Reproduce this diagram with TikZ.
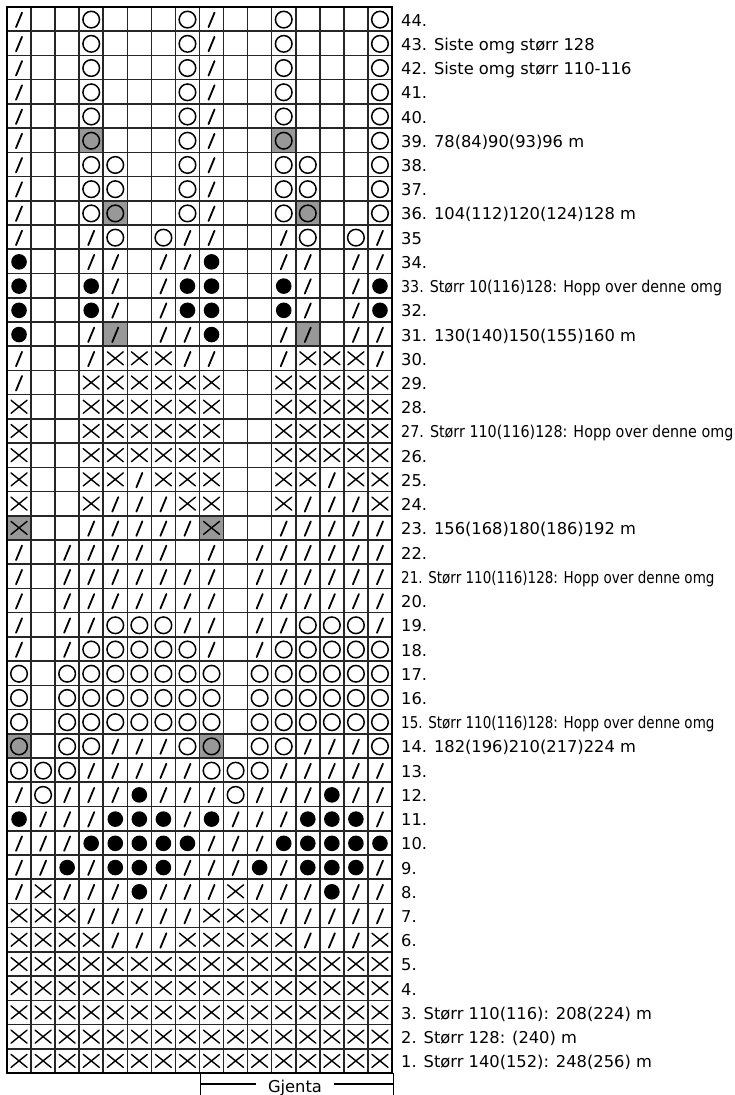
\documentclass[tikz,border=0pt]{standalone}
\usepackage{fontspec}
\setmainfont{DejaVu Sans}

\definecolor{cellgray}{RGB}{152,152,152}

% smalere tekst for "Hopp over"-linjene
\newcommand{\hopp}[2]{\scalebox{#1}[1]{#2}}

% symboler, tegnet i midten av gjeldende rute
\newcommand{\symbe}{}
\newcommand{\symbs}{\draw[slash] (-3pt,-8pt) -- (3pt,6.5pt);}
\newcommand{\symbo}{\draw[ring] (0pt,-0.5pt) circle[radius=8.3pt];}
\newcommand{\symbx}{\draw[cross] (-8pt,-6.5pt) -- (8pt,6.5pt) (-8pt,6.5pt) -- (8pt,-6.5pt);}
\newcommand{\symbb}{\fill (0pt,-0.5pt) circle[radius=7.8pt];}
\newcommand{\symbS}{\fill[cellgray] (-0.5,-0.5) rectangle (0.5,0.5); \symbs}
\newcommand{\symbO}{\fill[cellgray] (-0.5,-0.5) rectangle (0.5,0.5); \symbo}
\newcommand{\symbX}{\fill[cellgray] (-0.5,-0.5) rectangle (0.5,0.5); \symbx}

\begin{document}
\begin{tikzpicture}[
    x=1pt, y=1pt,
    line cap=round,
    slash/.style={line width=1.8pt},
    ring/.style={line width=1.5pt},
    cross/.style={line width=1.4pt},
    gridline/.style={line width=1.6pt, black!85},
    frame/.style={line width=2pt},
    rowlabel/.style={anchor=base west, xshift=9pt, yshift=-7pt, inner sep=0pt,
        font=\fontsize{16.3}{20}\selectfont},
    bracket/.style={line width=1.4pt, line cap=butt},
]
\useasboundingbox (0,0) rectangle (735,1095);

% ---- mønster: 16 masker, 44 omganger ----
\begin{scope}[shift={(7,22)}, x=24.0625pt, y=24.2273pt]
\foreach \r/\cells/\lbl in {
    44/{s,e,e,o,e,e,e,o,s,e,e,o,e,e,e,o}/{44.},
    43/{s,e,e,o,e,e,e,o,s,e,e,o,e,e,e,o}/{43. Siste omg størr 128},
    42/{s,e,e,o,e,e,e,o,s,e,e,o,e,e,e,o}/{42. Siste omg størr 110-116},
    41/{s,e,e,o,e,e,e,o,s,e,e,o,e,e,e,o}/{41.},
    40/{s,e,e,o,e,e,e,o,s,e,e,o,e,e,e,o}/{40.},
    39/{s,e,e,O,e,e,e,o,s,e,e,O,e,e,e,o}/{39. 78(84)90(93)96 m},
    38/{s,e,e,o,o,e,e,o,s,e,e,o,o,e,e,o}/{38.},
    37/{s,e,e,o,o,e,e,o,s,e,e,o,o,e,e,o}/{37.},
    36/{s,e,e,o,O,e,e,o,s,e,e,o,O,e,e,o}/{36. 104(112)120(124)128 m},
    35/{s,e,e,s,o,e,o,s,s,e,e,s,o,e,o,s}/{35},
    34/{b,e,e,s,s,e,s,s,b,e,e,s,s,e,s,s}/{34.},
    33/{b,e,e,b,s,e,s,b,b,e,e,b,s,e,s,b}/{\hopp{0.872}{33. Størr 10(116)128: Hopp over denne omg}},
    32/{b,e,e,b,s,e,s,b,b,e,e,b,s,e,s,b}/{32.},
    31/{b,e,e,s,S,e,s,s,b,e,e,s,S,e,s,s}/{31. 130(140)150(155)160 m},
    30/{s,e,e,s,x,x,x,s,s,e,e,s,x,x,x,s}/{30.},
    29/{s,e,e,x,x,x,x,x,x,e,e,x,x,x,x,x}/{29.},
    28/{x,e,e,x,x,x,x,x,x,e,e,x,x,x,x,x}/{28.},
    27/{x,e,e,x,x,x,x,x,x,e,e,x,x,x,x,x}/{\hopp{0.878}{27. Størr 110(116)128: Hopp over denne omg}},
    26/{x,e,e,x,x,x,x,x,x,e,e,x,x,x,x,x}/{26.},
    25/{x,e,e,x,x,s,x,x,x,e,e,x,x,s,x,x}/{25.},
    24/{x,e,e,x,s,s,s,x,x,e,e,x,s,s,s,x}/{24.},
    23/{X,e,e,s,s,s,s,s,X,e,e,s,s,s,s,s}/{23. 156(168)180(186)192 m},
    22/{s,e,s,s,s,s,s,e,s,e,s,s,s,s,s,s}/{22.},
    21/{s,e,s,s,s,s,s,s,s,e,s,s,s,s,s,s}/{\hopp{0.828}{21. Størr 110(116)128: Hopp over denne omg}},
    20/{s,e,s,s,s,s,s,s,s,e,s,s,s,s,s,s}/{20.},
    19/{s,e,s,s,o,o,o,s,s,e,s,s,o,o,o,s}/{19.},
    18/{s,e,s,o,o,o,o,o,s,e,s,o,o,o,o,o}/{18.},
    17/{o,e,o,o,o,o,o,o,o,e,o,o,o,o,o,o}/{17.},
    16/{o,e,o,o,o,o,o,o,o,e,o,o,o,o,o,o}/{16.},
    15/{o,e,o,o,o,o,o,o,o,e,o,o,o,o,o,o}/{\hopp{0.828}{15. Størr 110(116)128: Hopp over denne omg}},
    14/{O,e,o,o,s,s,s,o,O,e,o,o,s,s,s,o}/{14. 182(196)210(217)224 m},
    13/{o,o,o,s,s,s,s,s,o,o,o,s,s,s,s,s}/{13.},
    12/{s,o,s,s,s,b,s,s,s,o,s,s,s,b,s,s}/{12.},
    11/{b,s,s,s,b,b,b,s,b,s,s,s,b,b,b,s}/{11.},
    10/{s,s,s,b,b,b,b,b,s,s,s,b,b,b,b,b}/{10.},
    9/{s,s,b,s,b,b,b,s,s,s,b,s,b,b,b,s}/{9.},
    8/{s,x,s,s,s,b,s,s,s,x,s,s,s,b,s,s}/{8.},
    7/{x,x,x,s,s,s,s,s,x,x,x,s,s,s,s,s}/{7.},
    6/{x,x,x,x,s,s,s,x,x,x,x,x,s,s,s,x}/{6.},
    5/{x,x,x,x,x,x,x,x,x,x,x,x,x,x,x,x}/{5.},
    4/{x,x,x,x,x,x,x,x,x,x,x,x,x,x,x,x}/{4.},
    3/{x,x,x,x,x,x,x,x,x,x,x,x,x,x,x,x}/{3. Størr 110(116): 208(224) m},
    2/{x,x,x,x,x,x,x,x,x,x,x,x,x,x,x,x}/{2. Størr 128: (240) m},
    1/{x,x,x,x,x,x,x,x,x,x,x,x,x,x,x,x}/{1. Størr 140(152): 248(256) m}%
}{
    \foreach \s [count=\c] in \cells {
        \begin{scope}[shift={(\c-0.5,\r-0.5)}]
            \csname symb\s\endcsname
        \end{scope}
    }
    \node[rowlabel] (row\r) at (16,\r-0.5) {\lbl};
}

% ---- rutenett ----
\draw[gridline] (0,0) grid[step={(1,1)}] (16,44);
\draw[frame] (0,0) rectangle (16,44);
\end{scope}

% ---- Gjenta ----
\coordinate (gjLtop) at (200.5,22);
\coordinate (gjLbot) at (200.5,0);
\coordinate (gjRtop) at (393.5,22);
\coordinate (gjRbot) at (393.5,0);
\coordinate (gjLmid) at (200.5,11);
\coordinate (gjRmid) at (393.5,11);
\node[anchor=base, inner xsep=12pt, inner ysep=0pt,
    font=\fontsize{16.3}{20}\selectfont] (gjenta) at (295,2.5) {Gjenta};
\draw[bracket] (gjLtop) -- (gjLbot);
\draw[bracket] (gjRtop) -- (gjRbot);
\draw[bracket] (gjLmid) -- (gjenta.west |- gjLmid);
\draw[bracket] (gjenta.east |- gjRmid) -- (gjRmid);

\end{tikzpicture}
\end{document}
